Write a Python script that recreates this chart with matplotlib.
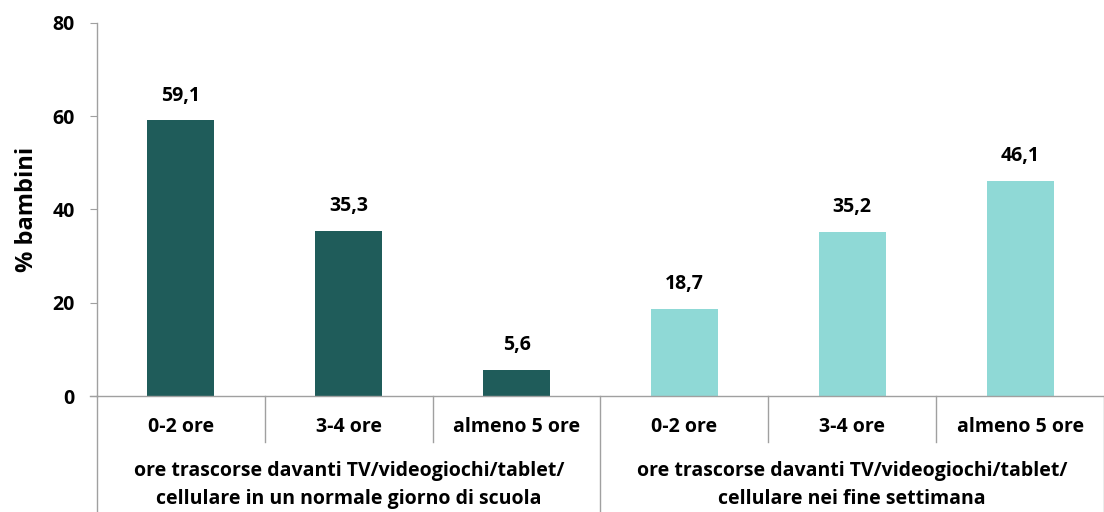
import matplotlib.pyplot as plt
import matplotlib.transforms as mtransforms

categories = ["0-2 ore", "3-4 ore", "almeno 5 ore", "0-2 ore", "3-4 ore", "almeno 5 ore"]
values = [59.1, 35.3, 5.6, 18.7, 35.2, 46.1]
value_labels = ["59,1", "35,3", "5,6", "18,7", "35,2", "46,1"]
groups = ["ore trascorse davanti TV/videogiochi/tablet/\ncellulare in un normale giorno di scuola",
          "ore trascorse davanti TV/videogiochi/tablet/\ncellulare nei fine settimana"]
colors = ["#1F5C5A"] * 3 + ["#8FD9D6"] * 3
yticks = [0, 20, 40, 60, 80]

plt.rcParams['font.family'] = ['Open Sans', 'DejaVu Sans']
plt.rcParams['font.weight'] = 'bold'
FS = 14

fig = plt.figure(figsize=(11.04, 5.12), dpi=100)
ax = fig.add_axes([97 / 1104, 116 / 512, 1007 / 1104, 373 / 512])

x = list(range(len(values)))
ax.bar(x, values, width=0.4, color=colors)
for xi, v, lab in zip(x, values, value_labels):
    ax.text(xi, v + 3.2, lab, ha='center', va='bottom', fontsize=FS, fontweight='bold')

ax.set_xlim(-0.5, len(values) - 0.5)
ax.set_ylim(0, 80)
ax.set_yticks(yticks)
ax.set_yticklabels([str(t) for t in yticks], fontsize=FS, fontweight='bold')
ax.set_ylabel("% bambini", fontsize=17, fontweight='bold', labelpad=10)
ax.tick_params(axis='y', length=5, color='#A0A0A0', pad=11)
ax.set_xticks([])

for s in ['top', 'right']:
    ax.spines[s].set_visible(False)
for s in ['left', 'bottom']:
    ax.spines[s].set_color('#A0A0A0')
    ax.spines[s].set_linewidth(1)

trans = mtransforms.blended_transform_factory(ax.transData, ax.transAxes)
px = 1 / 373  # one pixel in axes fraction (vertical)

# category labels
for xi, c in zip(x, categories):
    ax.text(xi, -31 * px, c, transform=trans, ha='center', va='center', fontsize=FS, fontweight='bold')

# group labels
for gi, g in enumerate(groups):
    ax.text(gi * 3 + 1, -89 * px, g, transform=trans, ha='center', va='center', fontsize=FS,
            fontweight='bold', linespacing=1.5)

# separators
for b in [0.5, 1.5, 3.5, 4.5]:
    ax.plot([b, b], [0, -46 * px], transform=trans, color='#A0A0A0', lw=1, clip_on=False)
for b in [-0.5, 2.5, 5.5]:
    ax.plot([b, b], [0, -120 * px], transform=trans, color='#A0A0A0', lw=1, clip_on=False)
ax.plot([-0.5 - 0.04, -0.5], [0, 0], transform=trans, color='#A0A0A0', lw=1, clip_on=False)

fig.savefig("out.png", dpi=100)
